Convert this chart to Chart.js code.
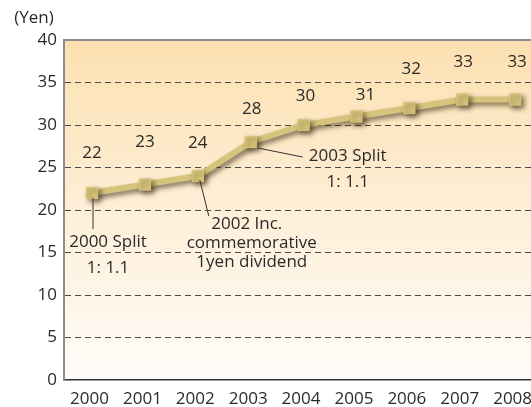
<!DOCTYPE html>
<html>
<head>
<meta charset="utf-8">
<script src="https://cdn.jsdelivr.net/npm/chart.js@4.4.1/dist/chart.umd.min.js"></script>
<style>
  html, body { margin: 0; padding: 0; background: #fff; overflow: hidden; }
  #wrap { width: 531px; height: 407px; overflow: hidden; }
</style>
</head>
<body>
<div id="wrap"><canvas id="dividend" width="550" height="407"></canvas></div>
<script>
var years = ["2000", "2001", "2002", "2003", "2004", "2005", "2006", "2007", "2008"];
var dividends = [22, 23, 24, 28, 30, 31, 32, 33, 33];
var yMin = 0, yMax = 40, yStep = 5;
var unitLabel = "(Yen)";

// how far each value label sits from its point (dx, dy up), px
var labelNudge = [[0, 40], [0, 42], [0, 33], [1, 33], [2, 29], [9, 21], [2, 39], [1, 37], [2, 37]];

// event notes hung off a point: leader line + text lines, offsets in px
var notes = [
  { index: 0, lead: [1, 5, 1, 36], lines: [["2000 Split", 16, 49], ["1: 1.1", 16, 75]] },
  { index: 2, lead: [2, 4, 11, 40], lines: [["2002 Inc.", 49, 48], ["commemorative", 54, 67], ["1yen dividend", 54, 86]] },
  { index: 3, lead: [7, 6, 52, 15], lines: [["2003 Split", 97, 14], ["1: 1.1", 97, 40]] }
];

var FONT = "'Open Sans', 'DejaVu Sans', sans-serif";
var lineColor = "#D7C47C";

var decor = {
  id: "decor",
  beforeDraw: function (chart) {
    var ctx = chart.ctx, a = chart.chartArea;
    var g = ctx.createLinearGradient(0, a.top, 0, a.bottom);
    g.addColorStop(0, "#FCE0B0");
    g.addColorStop(0.55, "#FEF0DB");
    g.addColorStop(1, "#FFFCF8");
    ctx.save();
    ctx.fillStyle = g;
    ctx.fillRect(a.left, a.top, a.right - a.left, a.bottom - a.top);
    ctx.restore();
  },
  beforeDatasetsDraw: function (chart) {
    var ctx = chart.ctx, a = chart.chartArea;
    ctx.save();
    ctx.strokeStyle = "#8c8c8c";
    ctx.lineWidth = 2;
    ctx.beginPath();
    ctx.moveTo(a.left - 1, a.top);
    ctx.lineTo(a.right, a.top);
    ctx.stroke();
    ctx.fillStyle = "#2a2a2a";
    ctx.font = "17px " + FONT;
    ctx.textAlign = "center";
    ctx.textBaseline = "middle";
    ctx.fillText(unitLabel, 34, 18);
    ctx.restore();

    ctx.save();
    ctx.shadowColor = "rgba(50,35,10,0.6)";
    ctx.shadowBlur = 5;
    ctx.shadowOffsetX = 3;
    ctx.shadowOffsetY = 3;
  },
  afterDatasetsDraw: function (chart) {
    var ctx = chart.ctx;
    ctx.restore();

    var pts = chart.getDatasetMeta(0).data;
    ctx.save();
    ctx.fillStyle = "#2a2a2a";
    ctx.font = "17px " + FONT;
    ctx.textAlign = "center";
    ctx.textBaseline = "middle";
    pts.forEach(function (p, i) {
      ctx.fillText(String(dividends[i]), p.x + labelNudge[i][0], p.y - labelNudge[i][1]);
    });

    ctx.strokeStyle = "#333";
    ctx.lineWidth = 1;
    notes.forEach(function (n) {
      var p = pts[n.index];
      ctx.beginPath();
      ctx.moveTo(p.x + n.lead[0], p.y + n.lead[1]);
      ctx.lineTo(p.x + n.lead[2], p.y + n.lead[3]);
      ctx.stroke();
      n.lines.forEach(function (l) {
        ctx.fillText(l[0], p.x + l[1], p.y + l[2]);
      });
    });
    ctx.restore();
  }
};

new Chart(document.getElementById("dividend"), {
  type: "line",
  data: {
    datasets: [
      {
        data: dividends.map(function (v, i) { return { x: i, y: v }; }),
        borderColor: lineColor,
        backgroundColor: lineColor,
        borderWidth: 6,
        tension: 0,
        pointStyle: "rect",
        pointRadius: 8,
        pointBorderWidth: 1,
        pointBackgroundColor: lineColor,
        pointBorderColor: lineColor,
        clip: false
      }
    ]
  },
  options: {
    responsive: false,
    animation: false,
    layout: { autoPadding: false, padding: { top: 40, right: 0, bottom: 0, left: 0 } },
    scales: {
      x: {
        type: "linear",
        min: -0.53,
        max: 8.66,
        grid: { display: false, drawTicks: false },
        border: { color: "#333", width: 1.5 },
        ticks: {
          stepSize: 1,
          includeBounds: false,
          autoSkip: false,
          maxRotation: 0,
          padding: 9,
          labelOffset: -2.5,
          color: "#2a2a2a",
          font: { family: FONT, size: 17 },
          callback: function (v) { return Number.isInteger(v) ? years[v] : ""; }
        },
        afterFit: function (s) { s.height = 27; }
      },
      y: {
        min: yMin,
        max: yMax,
        grid: {
          drawTicks: false,
          lineWidth: 1,
          color: function (c) {
            var v = c.tick ? c.tick.value : null;
            return (v === yMin || v === yMax) ? "rgba(0,0,0,0)" : "#4a4a4a";
          }
        },
        border: { color: "#8c8c8c", width: 2, dash: [6, 4] },
        ticks: {
          stepSize: yStep,
          padding: 7,
          color: "#2a2a2a",
          font: { family: FONT, size: 17 }
        },
        afterFit: function (s) { s.width = 64; }
      }
    },
    plugins: {
      legend: { display: false },
      tooltip: { enabled: false }
    }
  },
  plugins: [decor]
});
</script>
</body>
</html>
